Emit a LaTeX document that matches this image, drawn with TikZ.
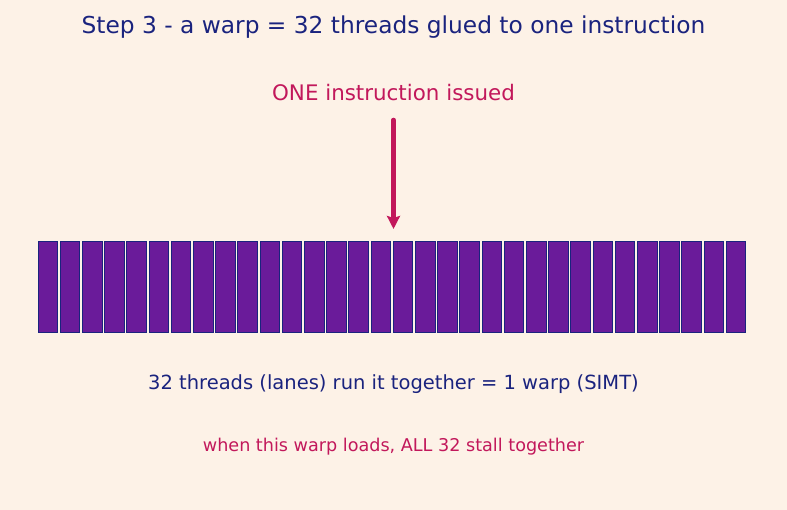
\documentclass[tikz,border=0pt]{standalone}
\usepackage{fontspec}
\setmainfont{DejaVu Sans}
\usepackage{xcolor}
\usepackage{tikz}
\usetikzlibrary{arrows.meta,positioning}
\definecolor{paper}{RGB}{253, 242, 231}
\definecolor{inknavy}{RGB}{26, 35, 126}
\definecolor{warpred}{RGB}{194, 24, 91}
\definecolor{lanepurple}{RGB}{106, 27, 154}

\begin{document}
\begin{tikzpicture}[x=1pt, y=-1pt,
    lane/.style={rectangle, fill=lanepurple, draw=inknavy, line width=1pt,
        minimum width=19.6pt, minimum height=91pt, inner sep=0pt},
    issuearrow/.style={line width=4.5pt, line cap=round, color=warpred,
        -{Stealth[length=13pt, width=13pt, inset=2pt]}}]
    \fill[paper] (0, 0) rectangle (787, 510);
    \useasboundingbox (0, 0) rectangle (787, 510);

    \node[text=inknavy, font=\fontsize{23.3}{27}\selectfont] (title) at (393.5, 27)
        {Step 3 - a warp = 32 threads glued to one instruction};
    \node[text=warpred, font=\fontsize{21.4}{25}\selectfont] (issue) at (393.5, 93)
        {ONE instruction issued};

    % the 32 lanes of the warp
    \foreach \i in {1,...,32}
        \node[lane] (lane\i) at ({47.8 + 22.2*(\i-1)}, 287.5) {};

    \coordinate (src) at (393.5, 120);
    \coordinate (dst) at (393.5, 229);
    \draw[issuearrow] (src) -- (dst);

    \node[text=inknavy, font=\fontsize{19.5}{23}\selectfont] (simt) at (393.5, 384)
        {32 threads (lanes) run it together = 1 warp (SIMT)};
    \node[text=warpred, font=\fontsize{17.6}{21}\selectfont] (stall) at (393.5, 447)
        {when this warp loads, ALL 32 stall together};
\end{tikzpicture}
\end{document}
